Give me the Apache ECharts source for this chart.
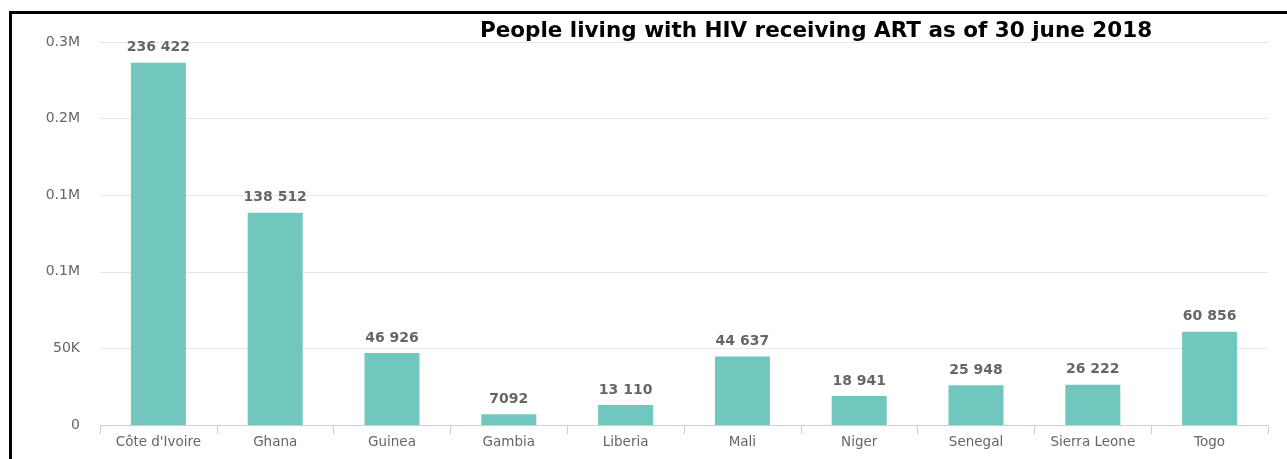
<!DOCTYPE html>
<html>
<head>
<meta charset="utf-8">
<title>People living with HIV receiving ART</title>
<script src="https://cdn.jsdelivr.net/npm/echarts@6/dist/echarts.min.js"></script>
<style>
  html, body { margin: 0; padding: 0; background: #fff; }
  #frame {
    position: absolute; left: 9px; top: 11px; right: -4px; bottom: -4px;
    border-left: 3px solid #000; border-top: 3px solid #000;
  }
  #chart { position: absolute; left: 0; top: 0; width: 1287px; height: 459px; }
</style>
</head>
<body>
<div id="frame"></div>
<div id="chart"></div>
<script>
// Countries and number of people on antiretroviral therapy (30 June 2018)
const countries = ['Côte d\'Ivoire', 'Ghana', 'Guinea', 'Gambia', 'Liberia', 'Mali', 'Niger', 'Senegal', 'Sierra Leone', 'Togo'];
const onArt = [236422, 138512, 46926, 7092, 13110, 44637, 18941, 25948, 26222, 60856];

// Value-axis ticks and their labels
const yStep = 50000;
const yMax = 250000;
const yTickLabels = ['0', '50K', '0.1M', '0.1M', '0.2M', '0.3M'];

// 236422 -> "236 422", 7092 stays "7092"
function groupDigits(v) {
  const s = String(v);
  return v >= 10000 ? s.replace(/\B(?=(\d{3})+(?!\d))/g, ' ') : s;
}

const chart = echarts.init(document.getElementById('chart'), null, { renderer: 'canvas' });
chart.setOption({
  animation: false,
  title: {
    text: 'People living with HIV receiving ART as of 30 june 2018',
    left: 811,
    top: 15,
    textAlign: 'center',
    textStyle: { fontFamily: 'DejaVu Sans', fontWeight: 900, fontSize: 21.5, color: '#000' }
  },
  grid: { left: 100, right: 19, top: 42, bottom: 34 },
  xAxis: {
    type: 'category',
    data: countries,
    axisLine: { lineStyle: { color: '#ccd0d6', width: 1 } },
    axisTick: { show: true, length: 9, lineStyle: { color: '#ccd0d6' } },
    axisLabel: { color: '#666', fontFamily: 'DejaVu Sans', fontSize: 13.5, margin: 10 }
  },
  yAxis: {
    type: 'value',
    min: 0,
    max: yMax,
    interval: yStep,
    axisLine: { show: false },
    axisTick: { show: false },
    splitLine: { lineStyle: { color: '#e6e6e6', width: 1 } },
    axisLabel: {
      color: '#666', fontFamily: 'DejaVu Sans', fontSize: 14, margin: 20,
      formatter: v => yTickLabels[Math.round(v / yStep)]
    }
  },
  series: [{
    type: 'bar',
    data: onArt,
    barWidth: 55,
    itemStyle: { color: '#71c7bd' },
    label: {
      show: true,
      position: 'top',
      distance: 8,
      color: '#666',
      fontFamily: 'DejaVu Sans',
      fontWeight: 'bold',
      fontSize: 14,
      formatter: p => groupDigits(p.value)
    }
  }]
});
</script>
</body>
</html>
